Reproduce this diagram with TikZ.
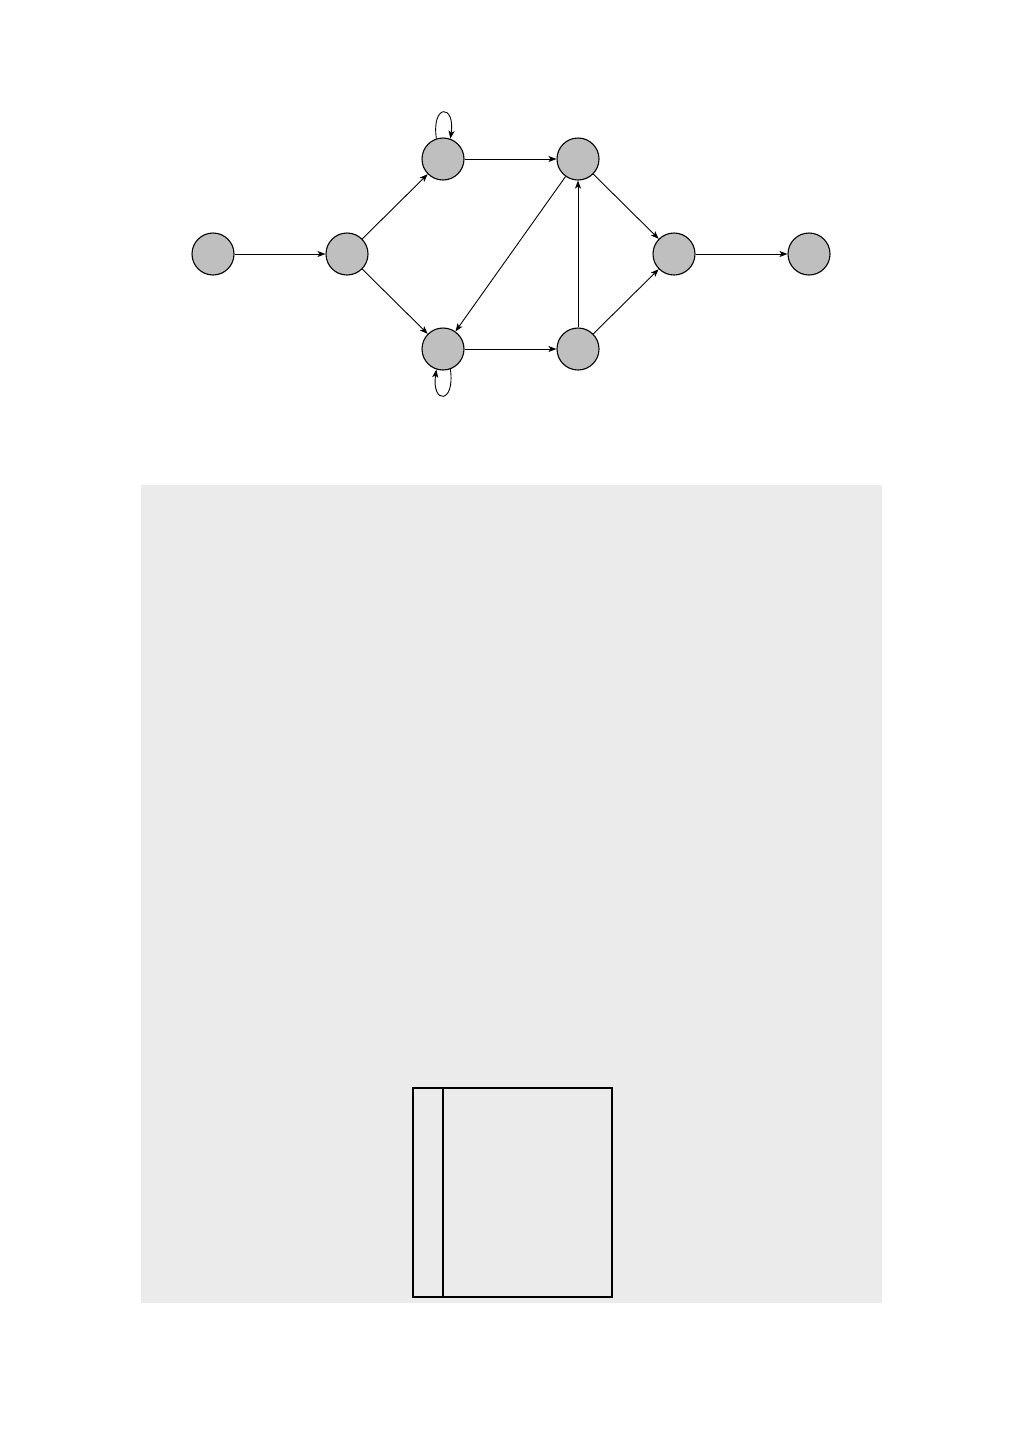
\documentclass[tikz,border=0pt]{standalone}
\usetikzlibrary{arrows.meta}
\definecolor{panelgray}{HTML}{EBEBEB}
\definecolor{nodegray}{HTML}{BFBFBF}
\tikzset{
  vertex/.style={circle, draw=black, fill=nodegray, line width=1.1pt, minimum size=42pt, inner sep=0pt},
  arc/.style={-{Stealth[length=8pt,width=6pt,inset=2pt]}, line width=0.9pt},
  frame/.style={draw=black, line width=2pt}
}
\begin{document}
\begin{tikzpicture}[x=1pt,y=-1pt]
\useasboundingbox (0,0) rectangle (1009,1441);
\fill[panelgray] (141,485) rectangle (882,1303);
% nodes
\node[vertex] (A) at (213,254) {};
\node[vertex] (B) at (347,254) {};
\node[vertex] (C) at (443,159) {};
\node[vertex] (D) at (443,349) {};
\node[vertex] (E) at (578,159) {};
\node[vertex] (F) at (578,349) {};
\node[vertex] (G) at (674,254) {};
\node[vertex] (H) at (809,254) {};
% edges
\draw[arc] (A) -- (B);
\draw[arc] (B) -- (C);
\draw[arc] (B) -- (D);
\draw[arc] (C) -- (E);
\draw[arc] (D) -- (F);
\draw[arc] (E) -- (D);
\draw[arc] (F) -- (E);
\draw[arc] (E) -- (G);
\draw[arc] (F) -- (G);
\draw[arc] (G) -- (H);
% self loops
\draw[arc] (C.108) .. controls +(-5,-35) and +(5,-35) .. (C.70);
\draw[arc] (D.-70) .. controls +(5,35) and +(-5,35) .. (D.-108);
% bottom box
\node[frame, minimum width=199pt, minimum height=209pt, inner sep=0pt, anchor=north west] (box) at (412,1087) {};
\coordinate (divtop) at (443,1087);
\coordinate (divbot) at (443,1296);
\draw[line width=2pt] (divtop) -- (divbot);
\end{tikzpicture}
\end{document}
